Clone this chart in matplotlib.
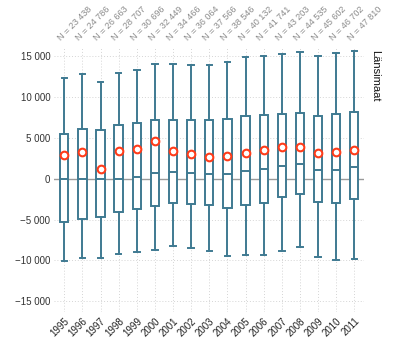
import matplotlib
matplotlib.use("Agg")
import matplotlib.pyplot as plt

years = ["1995","1996","1997","1998","1999","2000","2001","2002","2003",
         "2004","2005","2006","2007","2008","2009","2010","2011"]
n_labels = ["23 438","24 786","26 663","28 707","30 696","32 449","34 466","36 064",
            "37 566","38 546","40 132","41 741","43 203","44 535","45 602","46 702","47 810"]
whisker_low = [-10120,-9670,-9750,-9220,-8940,-8700,-8170,-8490,-8900,
               -9430,-9390,-9270,-8900,-8410,-9550,-9950,-9760]
q1 = [-5320,-4950,-4630,-4020,-3700,-3370,-2930,-3120,-3210,
      -3570,-3210,-2960,-2290,-1890,-2800,-2930,-2480]
median = [0,0,0,0,170,660,820,700,530,610,980,1180,1510,1750,1100,1060,1390]
q3 = [5450,6020,5980,6590,6790,7120,7200,7120,7120,
      7320,7690,7770,7890,8050,7610,7890,8100]
whisker_high = [12320,12850,11790,12890,13290,13990,13990,13870,13950,
                14320,14840,15050,15250,15490,14960,15410,15610]
means = [2890,3300,1150,3340,3620,4600,3380,2970,2690,
         2770,3130,3460,3900,3900,3170,3210,3540]
yticks = [-15000,-10000,-5000,0,5000,10000,15000]
ytick_labels = ["\u221215 000","\u221210 000","\u22125 000","0","5 000","10 000","15 000"]
facet_label = "Länsimaat"

plt.rcParams['font.family'] = ['Liberation Sans', 'DejaVu Sans']
fig = plt.figure(figsize=(4, 3.5), dpi=100)
ax = fig.add_axes([54.3/400, 1-312/350, 310/400, 265/350])

pos = list(range(len(years)))
stats = []
for i in pos:
    stats.append(dict(med=median[i], q1=q1[i], q3=q3[i],
                      whislo=whisker_low[i], whishi=whisker_high[i], fliers=[]))
col = "#3f7a92"
ax.axhline(0, color="#9a9a9a", lw=1.0, zorder=1)
ax.bxp(stats, positions=pos, widths=0.46, showfliers=False, patch_artist=True,
       boxprops=dict(facecolor="white", edgecolor=col, lw=1.4),
       medianprops=dict(color=col, lw=1.4),
       whiskerprops=dict(color=col, lw=1.4),
       capprops=dict(color=col, lw=1.4), capwidths=0.3,
       manage_ticks=False, zorder=3)
ax.plot(pos, means, ls="none", marker="o", ms=5.5, mfc="white",
        mec="#ff3c1a", mew=1.5, zorder=4)

ax.set_xlim(-0.55, 16.55)
ax.set_ylim(-16300, 16100)
ax.set_yticks(yticks)
ax.set_yticklabels(ytick_labels, fontsize=7, color="#333333")
ax.set_xticks(pos)
ax.set_xticklabels(years, rotation=45, ha="right", rotation_mode="anchor",
                   fontsize=7, color="#222222")
ax.tick_params(length=0, pad=3)
ax.grid(True, color="#d5d5d5", ls=(0, (1, 2)), lw=0.7)
ax.set_axisbelow(True)
for s in ax.spines.values():
    s.set_visible(False)

for i in pos:
    ax.text(i - 0.1, 16700, "N = " + n_labels[i], rotation=45, ha="left", va="bottom",
            rotation_mode="anchor", fontsize=6.5, color="#8a8a8a", clip_on=False)

ax.text(1.02, 0.99, facet_label, transform=ax.transAxes, rotation=270,
        ha="left", va="top", fontsize=8, color="#111111")

fig.savefig("out.png", dpi=100, facecolor="white")
